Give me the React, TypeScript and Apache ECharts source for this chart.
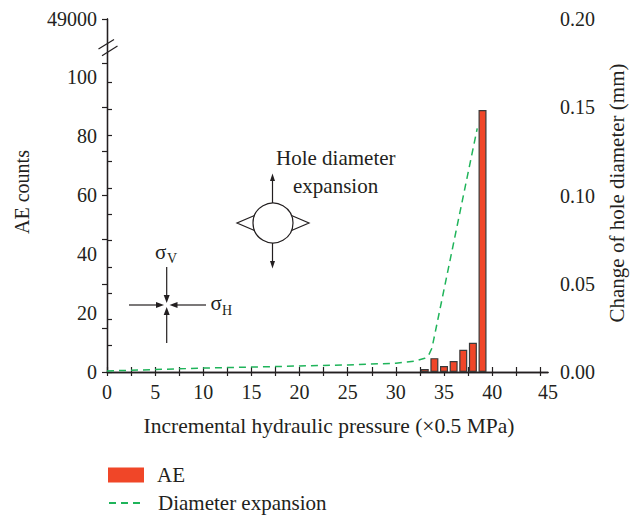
import React, { useEffect, useRef } from "react";
import * as echarts from "echarts";

// ---- data ----
const aeX = [33, 34, 35, 36, 37, 38, 39];
const aeCounts = [1, 4.7, 2, 3.7, 7.5, 9.9, 88.8];

const diaX = [0, 5, 10, 15, 20, 25, 30, 32, 33, 33.4, 33.75, 38.45];
const diaMm = [0.0006, 0.0014, 0.0022, 0.0028, 0.0034, 0.004, 0.005, 0.0062, 0.0078, 0.0095, 0.0136, 0.138];

const xTickValues = [0, 2.5, 5, 7.5, 10, 12.5, 15, 17.5, 20, 22.5, 25, 27.5, 30, 32.5, 35, 37.5, 40, 42.5, 45];
const xLabelValues = [0, 5, 10, 15, 20, 25, 30, 35, 40, 45.8];
const leftLabelValues = [0, 20, 40, 60, 80, 100, 119.66];
const leftTickValues = [0, 10, 20, 30, 40, 50, 60, 70, 80, 90, 100, 110];
const rightLabelValues = [0, 0.05, 0.1, 0.15, 0.2];
const rightTickValues = [0, 0.025, 0.05, 0.075, 0.1, 0.125, 0.15, 0.175, 0.2];

const FONT = "'Liberation Serif', 'DejaVu Serif', serif";
const INK = "#231f20";

export default function App() {
  const ref = useRef<HTMLDivElement>(null);

  useEffect(() => {
    if (!ref.current) return;
    const chart = echarts.init(ref.current, undefined, { renderer: "svg" });

    const axisLine = { show: true, lineStyle: { color: INK, width: 1.3 } };
    const labelStyle = { color: INK, fontSize: 20, fontFamily: FONT };

    const arrowHead = (pts: number[][]) => ({
      type: "polygon",
      shape: { points: pts },
      style: { fill: INK },
      silent: true,
    });
    const seg = (x1: number, y1: number, x2: number, y2: number, w = 1.2) => ({
      type: "line",
      shape: { x1, y1, x2, y2 },
      style: { stroke: INK, lineWidth: w },
      silent: true,
    });
    const txt = (text: string, x: number, y: number, size = 20, align = "left", extra: any = {}) => ({
      type: "text",
      x,
      y,
      style: {
        text,
        fill: INK,
        font: `${size}px ${FONT}`,
        textAlign: align,
        textVerticalAlign: "middle",
      },
      silent: true,
      ...extra,
    });

    const legendBase = {
      orient: "vertical",
      left: 108,
      padding: 0,
      itemWidth: 36,
      itemHeight: 15,
      textStyle: { color: INK, fontSize: 21, fontFamily: FONT, lineHeight: 21, padding: [0, 0, 0, 8] },
    };

    const option: any = {
      animation: false,
      backgroundColor: "#ffffff",
      grid: { left: 107, right: 86, top: 19, bottom: 146, containLabel: false },
      legend: [
        {
          ...legendBase,
          top: 464.5,
          data: [{ name: "AE", icon: "rect", itemStyle: { borderWidth: 0 } }],
        },
        {
          ...legendBase,
          top: 492.5,
          data: [{ name: "Diameter expansion", itemStyle: { opacity: 0 } }],
        },
      ],
      xAxis: [
        {
          type: "value",
          position: "bottom",
          min: 0,
          max: 45.8,
          axisLine,
          axisTick: { show: true, inside: true, length: 5, customValues: xTickValues, lineStyle: { color: INK, width: 1.2 } },
          axisLabel: {
            ...labelStyle,
            margin: 10,
            customValues: xLabelValues,
            formatter: (v: number) => (v > 45 ? "45" : String(v)),
          },
          splitLine: { show: false },
        },
        {
          type: "value",
          position: "top",
          min: 0,
          max: 45.8,
          axisLine,
          axisTick: { show: true, inside: true, length: 4, customValues: xTickValues, lineStyle: { color: INK, width: 1.2 } },
          axisLabel: { show: false },
          splitLine: { show: false },
        },
      ],
      yAxis: [
        {
          type: "value",
          position: "left",
          min: 0,
          max: 119.66,
          axisLine,
          axisTick: { show: false },
          axisLabel: {
            ...labelStyle,
            margin: 10,
            customValues: leftLabelValues,
            formatter: (v: number) => (v > 110 ? "49000" : String(v)),
          },
          splitLine: { show: false },
        },
        {
          type: "value",
          position: "right",
          min: 0,
          max: 0.2,
          axisLine,
          axisTick: { show: true, inside: true, length: 5, customValues: rightTickValues, lineStyle: { color: INK, width: 1.2 } },
          axisLabel: {
            ...labelStyle,
            margin: 12,
            customValues: rightLabelValues,
            formatter: (v: number) => v.toFixed(2),
          },
          splitLine: { show: false },
        },
        {
          type: "value",
          position: "left",
          min: 0,
          max: 134.2,
          axisLine: { show: false },
          axisTick: { show: true, inside: true, length: 5, customValues: leftTickValues, lineStyle: { color: INK, width: 1.2 } },
          axisLabel: { show: false },
          splitLine: { show: false },
        },
      ],
      series: [
        {
          type: "bar",
          name: "AE",
          xAxisIndex: 0,
          yAxisIndex: 0,
          barWidth: 8,
          data: aeX.map((x, i) => [x, aeCounts[i]]),
          itemStyle: { color: "#f04628", borderColor: "#3a3a3a", borderWidth: 1.2 },
          z: 3,
        },
        {
          type: "line",
          name: "Diameter expansion",
          xAxisIndex: 0,
          yAxisIndex: 1,
          symbol: "none",
          data: diaX.map((x, i) => [x, diaMm[i]]),
          lineStyle: { color: "#1fb45a", width: 1.5, type: [7, 5] },
          itemStyle: { color: "#1fb45a" },
          z: 2,
        },
      ],
      graphic: [
        // axis titles
        txt("AE counts", 22, 192, 20, "center", { rotation: Math.PI / 2 }),
        txt("Change of hole diameter (mm)", 617, 193, 21, "center", { rotation: Math.PI / 2 }),
        txt("Incremental hydraulic pressure (×0.5 MPa)", 329, 426, 21.5, "center"),
        // axis break
        seg(98.5, 49, 114, 39.5),
        seg(102, 55.7, 117.5, 46),
        // hole diagram
        txt("Hole diameter", 276, 158, 21, "left"),
        txt("expansion", 293, 186, 21, "left"),
        {
          type: "polyline",
          shape: { points: [[254.5, 215.5], [237, 223], [254.5, 230.5]] },
          style: { stroke: INK, lineWidth: 1.2, fill: null },
          silent: true,
        },
        {
          type: "polyline",
          shape: { points: [[291.5, 215.5], [309, 223], [291.5, 230.5]] },
          style: { stroke: INK, lineWidth: 1.2, fill: null },
          silent: true,
        },
        {
          type: "circle",
          shape: { cx: 273, cy: 223, r: 20 },
          style: { stroke: INK, lineWidth: 1.2, fill: "#fff" },
          silent: true,
        },
        seg(272.5, 203, 272.5, 180),
        arrowHead([[272.5, 173.5], [270, 181], [275, 181]]),
        seg(272.5, 243, 272.5, 262),
        arrowHead([[272.5, 268.5], [270, 261], [275, 261]]),
        // stress diagram
        seg(166.7, 267, 166.7, 296),
        arrowHead([[166.7, 303], [163.7, 295], [169.7, 295]]),
        seg(166.7, 343, 166.7, 315),
        arrowHead([[166.7, 307], [163.7, 315], [169.7, 315]]),
        seg(129, 305, 156, 305),
        arrowHead([[164, 305], [156, 302], [156, 308]]),
        seg(206, 305, 177, 305),
        arrowHead([[169.5, 305], [177.5, 302], [177.5, 308]]),
        txt("σ", 155, 252, 21, "left"),
        txt("V", 167, 258, 14, "left"),
        txt("σ", 210.5, 303, 21, "left"),
        txt("H", 222, 310, 14, "left"),
      ],
    };

    chart.setOption(option);
    return () => chart.dispose();
  }, []);

  return (
    <div
      ref={ref}
      style={{ position: "fixed", left: 0, top: 0, width: 634, height: 518, background: "#fff" }}
    />
  );
}
